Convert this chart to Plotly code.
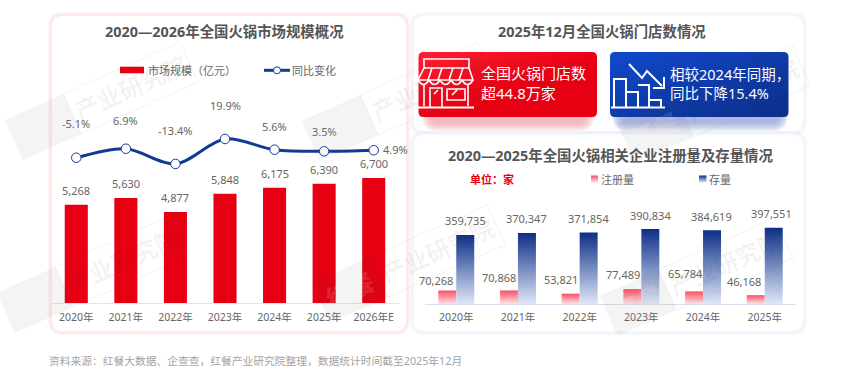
import math
import plotly.graph_objects as go

# ---------- data ----------
market_years = ["2020年", "2021年", "2022年", "2023年", "2024年", "2025年", "2026年E"]
market_size = [5268, 5630, 4877, 5848, 6175, 6390, 6700]
yoy_change = [-5.1, 6.9, -13.4, 19.9, 5.6, 3.5, 4.9]
firm_years = ["2020年", "2021年", "2022年", "2023年", "2024年", "2025年"]
registered = [70268, 70868, 53821, 77489, 65784, 46168]
stock = [359735, 370347, 371854, 390834, 384619, 397551]

title_left = "2020—2026年全国火锅市场规模概况"
title_top = "2025年12月全国火锅门店数情况"
title_bottom = "2020—2025年全国火锅相关企业注册量及存量情况"
source_note = "资料来源：红餐大数据、企查查，红餐产业研究院整理，数据统计时间截至2025年12月"

# ---------- layout helpers ----------
W, H = 850, 386
FONT = "Noto Sans, Noto Sans CJK SC, sans-serif"
GREY = "#666666"
px = lambda x: x / W
py = lambda y: 1 - y / H

# fills that the page script swaps for gradients
S_REDCARD = "rgb(1,2,3)"
S_BLUECARD = "rgb(1,2,4)"
S_REG = "rgb(1,2,5)"
S_STOCK = "rgb(1,2,6)"


def rr(x0, y0, x1, y1, r):
    P = lambda x, y: f"{px(x):.5f},{py(y):.5f}"
    return (f"M{P(x0 + r, y0)}L{P(x1 - r, y0)}Q{P(x1, y0)} {P(x1, y0 + r)}"
            f"L{P(x1, y1 - r)}Q{P(x1, y1)} {P(x1 - r, y1)}L{P(x0 + r, y1)}"
            f"Q{P(x0, y1)} {P(x0, y1 - r)}L{P(x0, y0 + r)}Q{P(x0, y0)} {P(x0 + r, y0)}Z")


def pth(d, fill=None, line=None, lw=0, layer="below", opacity=1):
    return dict(type="path", xref="paper", yref="paper", path=d, layer=layer, opacity=opacity,
                fillcolor=fill if fill else "rgba(0,0,0,0)",
                line=dict(color=line if line else "rgba(0,0,0,0)", width=lw))


def halo(x0, y0, x1, y1, r, color, steps=5, spread=5, alpha=0.22):
    out = []
    for i in range(steps, 0, -1):
        g = spread * i / steps
        out.append(pth(rr(x0 - g, y0 - g, x1 + g, y1 + g, r + g), fill=color, opacity=alpha))
    return out


def poly(points, close=False):
    s = "M" + "L".join(f"{px(x):.5f},{py(y):.5f}" for x, y in points)
    return s + ("Z" if close else "")


shapes = []
# left panel
shapes += halo(51, 15, 407, 332, 12, "#fbd3d3", spread=3, alpha=0.16)
shapes.append(pth(rr(51, 15, 407, 332, 12), fill="white", line="#fdeaea", lw=2))
# top-right panel
shapes += halo(413, 15, 804, 132, 11, "#e2e6f8", spread=3, alpha=0.16)
shapes.append(pth(rr(413, 15, 804, 132, 11), fill="white", line="#f4f6fd", lw=2))
# card glows
shapes += halo(432, 100, 584, 121, 6, "#f7a0a8", steps=6, spread=10, alpha=0.2)
shapes += halo(622, 100, 778, 121, 6, "#8fa0d8", steps=6, spread=10, alpha=0.2)
# bottom-right panel
shapes += halo(413, 134, 804, 332, 11, "#e2e6f8", spread=3, alpha=0.16)
shapes.append(pth(rr(413, 134, 804, 332, 11), fill="white", line="#f4f6fd", lw=2))
# cards
shapes.append(pth(rr(418.5, 52, 597, 117, 5), fill=S_REDCARD))
shapes.append(pth(rr(610, 52, 788.5, 117, 5), fill=S_BLUECARD))


# icons, traced in the card's coordinates
def store_icon(ox, oy):
    p = lambda a, b: (ox + a, oy + b)
    c = []
    c.append(poly([p(5, 9), p(50, 9), p(50, 18), p(5, 18)], True))
    # awning
    c.append(poly([p(5, 18), p(-1, 30), p(54, 30), p(50, 18)]))
    for a in [12, 22, 33, 43]:
        c.append(poly([p(a + 1, 18), p(a - 3, 30)]))
    # scallops
    for a in [-1, 10, 21, 32, 43]:
        c.append(f"M{px(ox + a):.5f},{py(oy + 30):.5f}Q{px(ox + a + 5.5):.5f},{py(oy + 39):.5f} {px(ox + a + 11):.5f},{py(oy + 30):.5f}")
    # walls, door, window
    c.append(poly([p(5, 34), p(5, 56)]))
    c.append(poly([p(49, 34), p(49, 56)]))
    c.append(poly([p(11, 57), p(11, 38), p(23, 38), p(23, 57)]))
    c.append(poly([p(28, 39), p(46, 39), p(46, 50), p(28, 50)], True))
    c.append(poly([p(15, 44), p(19, 40)]))
    c.append(poly([p(33, 45), p(38, 40)]))
    return [pth(d, line="white", lw=1.6) for d in c] + [
        pth(poly([p(-1, 57.5), p(55, 57.5)]), line="white", lw=2)]


def trend_icon(ox, oy):
    p = lambda a, b: (ox + a, oy + b)
    c = [
        poly([p(3, 57), p(3, 29), p(15, 29), p(15, 57)]),
        poly([p(15, 42), p(27, 42), p(27, 57)]),
        poly([p(27, 35), p(38, 35), p(38, 57)]),
        poly([p(38, 50), p(50, 50), p(50, 57)]),
        poly([p(18, 14), p(31, 28), p(36, 21), p(51, 36)]),
        poly([p(53, 27), p(53, 38), p(42, 38)]),
    ]
    return [pth(d, line="white", lw=2) for d in c] + [
        pth(poly([p(0, 57.5), p(54, 57.5)]), line="white", lw=2)]


shapes += store_icon(419, 50)
shapes += trend_icon(611, 50)

# legend marks
shapes.append(dict(type="rect", xref="paper", yref="paper", x0=px(120), x1=px(144), y0=py(73.3), y1=py(66.7),
                   fillcolor="#e60012", line=dict(width=0), layer="below"))
shapes.append(pth(poly([(264, 70.3), (290, 70.3)]), line="#123a94", lw=3))
shapes.append(dict(type="circle", xref="paper", yref="paper", x0=px(273.5), x1=px(280.5), y0=py(73.8), y1=py(66.8),
                   fillcolor="white", line=dict(color="#123a94", width=1), layer="below"))
shapes.append(dict(type="rect", xref="paper", yref="paper", x0=px(591), x1=px(598), y0=py(182.5), y1=py(175.5),
                   fillcolor=S_REG, line=dict(width=0), layer="below"))
shapes.append(dict(type="rect", xref="paper", yref="paper", x0=px(699), x1=px(706.5), y0=py(182.5), y1=py(175.5),
                   fillcolor=S_STOCK, line=dict(width=0), layer="below"))

annotations = []


def text(t, x, y, size, color=GREY, bold=False, anchor="center", angle=0):
    annotations.append(dict(text=f"<b>{t}</b>" if bold else t, xref="paper", yref="paper",
                            x=px(x - 2 if anchor == "left" else x), y=py(y), align=anchor,
                            xanchor=anchor, yanchor="middle", showarrow=False, textangle=angle,
                            font=dict(family=FONT, size=size, color=color)))


text(title_left, 224.5, 31.5, 14.4, color="#555555", bold=True)
text(title_top, 602, 31.5, 14.4, color="#555555", bold=True)
text(title_bottom, 610.5, 155, 14.4, color="#555555", bold=True)
text("市场规模（亿元）", 147.5, 70.5, 11, anchor="left")
text("同比变化", 292, 70.5, 11, anchor="left")
text("单位：家", 470, 179, 11, color="#e60012", bold=True, anchor="left")
text("注册量", 601, 179, 11, anchor="left")
text("存量", 709, 179, 11, anchor="left")
text("全国火锅门店数<br>超44.8万家", 481, 83, 15, color="white", anchor="left")
text("相较2024年同期，<br>同比下降15.4%", 670, 83, 14.5, color="white", anchor="left")
text(source_note, 49, 361, 10.75, color="#a3a3a3", anchor="left")

# value labels, tied to the axes
bar_font = dict(family=FONT, size=11, color=GREY)
for cat, v in zip(market_years, market_size):
    annotations.append(dict(text=f"{v:,}", xref="x", yref="y", x=cat, y=v, yshift=14, showarrow=False,
                            xanchor="center", yanchor="middle", font=bar_font))
line_label_dx = [0, 0, 0, 0, 0, 0, 21.5]
line_label_dy = [34.7, 28.7, 33, 33.7, 22.7, 20, 0.5]
for cat, v, dx, dy in zip(market_years, yoy_change, line_label_dx, line_label_dy):
    annotations.append(dict(text=f"{v}%", xref="x", yref="y2", x=cat, y=v, xshift=dx, yshift=dy, showarrow=False,
                            xanchor="center", yanchor="middle", font=bar_font))
reg_dx = [-20, -19, -19, -18, -18, -21]
reg_dy = [10.5, 13, 14, 15, 18, 14]
for cat, v, dx, dy in zip(firm_years, registered, reg_dx, reg_dy):
    annotations.append(dict(text=f"{v:,}", xref="x2", yref="y3", x=cat, y=v, xshift=dx, yshift=dy, showarrow=False,
                            xanchor="center", yanchor="middle", font=bar_font))
stock_dx = [9, 9, 9, 9, 8, 7]
stock_dy = [14, 14, 14, 13.5, 14, 14]
for cat, v, dx, dy in zip(firm_years, stock, stock_dx, stock_dy):
    annotations.append(dict(text=f"{v:,}", xref="x2", yref="y3", x=cat, y=v, xshift=dx, yshift=dy, showarrow=False,
                            xanchor="center", yanchor="middle", font=bar_font))

# watermarks
ANG = math.radians(24)
ux, uy = math.cos(ANG), -math.sin(ANG)
vx, vy = math.sin(ANG), math.cos(ANG)
mark_centres = [(43, 127), (35, 300), (340, 128), (350, 290), (655, 130), (638, 303)]


def box(cx, cy, a0, a1, hh):
    return [(cx + ux * a + vx * b, cy + uy * a + vy * b)
            for a, b in [(a0, -hh), (a1, -hh), (a1, hh), (a0, hh)]]


for cx, cy in mark_centres:
    shapes.append(pth(poly(box(cx, cy, -32, 32, 22), True), fill="rgba(60,60,60,0.06)", layer="above"))
    shapes.append(pth(poly(box(cx, cy, 32, 160, 22), True), line="rgba(60,60,60,0.045)", lw=1.5, layer="above"))
    text("红餐", cx, cy, 25, color="rgba(255,255,255,0.14)", bold=True, angle=-24)
    text("产业研究院", cx + ux * 96, cy + uy * 96, 24, color="rgba(60,60,60,0.06)", bold=True, angle=-24)

# ---------- figure ----------
fig = go.Figure()
fig.add_trace(go.Bar(x=market_years, y=market_size, xaxis="x", yaxis="y", width=0.465,
                     marker=dict(color="#e60012", line=dict(width=0)), showlegend=False))
fig.add_trace(go.Scatter(x=market_years, y=yoy_change, xaxis="x", yaxis="y2", mode="lines+markers",
                         line=dict(color="#123a94", width=3, shape="spline", smoothing=0.9),
                         marker=dict(size=9.5, color="white", line=dict(color="#123a94", width=1)),
                         showlegend=False))
fig.add_trace(go.Bar(x=firm_years, y=registered, xaxis="x2", yaxis="y3", offsetgroup="a",
                     marker=dict(color=S_REG, line=dict(width=0)), showlegend=False))
fig.add_trace(go.Bar(x=firm_years, y=stock, xaxis="x2", yaxis="y3", offsetgroup="b",
                     marker=dict(color=S_STOCK, line=dict(width=0)), showlegend=False))

tick = dict(family=FONT, size=10.5, color=GREY)
fig.update_layout(
    width=W, height=H, margin=dict(l=0, r=0, t=0, b=0), paper_bgcolor="white", plot_bgcolor="rgba(0,0,0,0)",
    barmode="group", bargap=0.417, bargroupgap=0, hovermode=False,
    xaxis=dict(domain=[px(51.5), px(398.5)], anchor="y", type="category", range=[-0.5, 6.5], showgrid=False,
               showline=True, linecolor="#e4e4e4", linewidth=1, ticks="", tickfont=tick, zeroline=False,
               ticklabelstandoff=4),
    yaxis=dict(domain=[py(303), py(170)], range=[0, 7127], visible=False),
    yaxis2=dict(domain=[py(170), py(130)], range=[-21.5, 31.9], visible=False, anchor="x"),
    xaxis2=dict(domain=[px(425.4), px(795.6)], anchor="y3", type="category", range=[-0.5, 5.5], showgrid=False,
                showline=True, linecolor="#d9dcea", linewidth=1, ticks="", tickfont=tick, zeroline=False,
                ticklabelstandoff=3),
    yaxis3=dict(domain=[py(304), py(200)], range=[0, 541667], visible=False, anchor="x2"),
    shapes=shapes, annotations=annotations, font=dict(family=FONT),
)

post = """
document.body.style.margin = '0';
document.documentElement.style.overflow = 'hidden';
var gd = document.getElementById('{plot_id}');
var svg = gd.querySelector('svg.main-svg');
var NS = 'http://www.w3.org/2000/svg';
var defs = document.createElementNS(NS, 'defs');
svg.insertBefore(defs, svg.firstChild);
var specs = {
  'rgb(1, 2, 3)': ['gCard', 0, 0, 1, 1, [[0, '#ff1f33'], [0.55, '#e60012'], [1, '#e60012']]],
  'rgb(1, 2, 4)': ['gBlue', 0, 0, 1, 1, [[0, '#1149cc'], [1, '#0c2e8a']]],
  'rgb(1, 2, 5)': ['gReg', 0, 0, 0, 1, [[0, '#ff4d64'], [1, '#ffe3e6']]],
  'rgb(1, 2, 6)': ['gStock', 0, 0, 0, 1, [[0, '#0c2f86'], [1, '#dfe6f7']]]
};
Object.keys(specs).forEach(function (k) {
  var s = specs[k], g = document.createElementNS(NS, 'linearGradient');
  g.setAttribute('id', s[0]);
  g.setAttribute('x1', s[1]); g.setAttribute('y1', s[2]);
  g.setAttribute('x2', s[3]); g.setAttribute('y2', s[4]);
  s[5].forEach(function (st) {
    var e = document.createElementNS(NS, 'stop');
    e.setAttribute('offset', st[0]); e.setAttribute('stop-color', st[1]);
    g.appendChild(e);
  });
  defs.appendChild(g);
});
gd.querySelectorAll('path').forEach(function (p) {
  var s = specs[p.style.fill];
  if (s) { p.style.fill = 'url(#' + s[0] + ')'; }
});
"""
fig.write_html("out.html", post_script=post, config=dict(displayModeBar=False))
